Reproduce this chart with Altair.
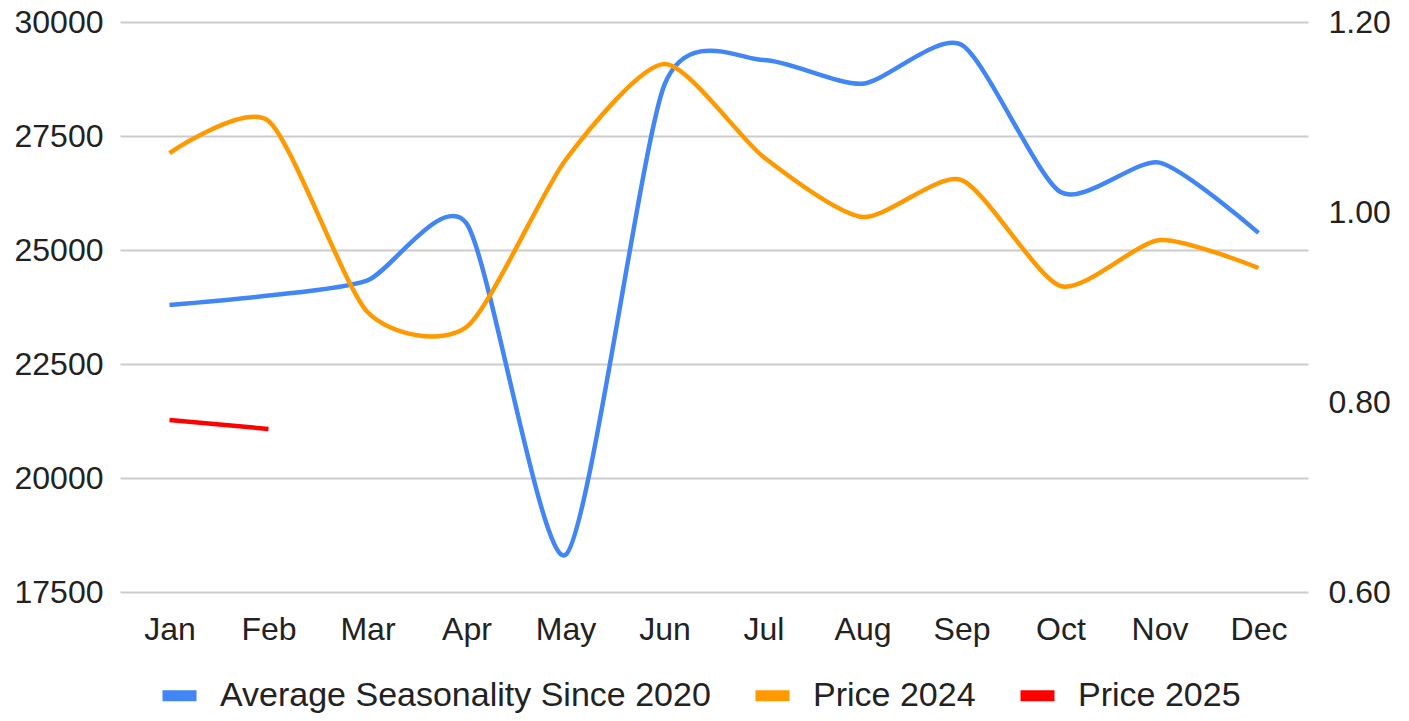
import altair as alt
import pandas as pd

months = ["Jan", "Feb", "Mar", "Apr", "May", "Jun", "Jul", "Aug", "Sep", "Oct", "Nov", "Dec"]
seasonality = [0.902, 0.912, 0.928, 0.988, 0.639, 1.134, 1.160, 1.135, 1.176, 1.021, 1.052, 0.978]
price_2024 = [27127, 27830, 23640, 23311, 26974, 29079, 27040, 25724, 26535, 24210, 25219, 24605]
price_2025_months = ["Jan", "Feb"]
price_2025 = [21272, 21075]

series_names = ["Average Seasonality Since 2020", "Price 2024", "Price 2025"]
series_colors = ["#4285F4", "#FF9900", "#FF0000"]

left_ticks = [17500, 20000, 22500, 25000, 27500, 30000]
right_ticks = [0.6, 0.8, 1.0, 1.2]

rows = []
for m, v in zip(months, seasonality):
    rows.append({"month": m, "series": series_names[0], "value": v})
for m, v in zip(months, price_2024):
    rows.append({"month": m, "series": series_names[1], "value": v})
for m, v in zip(price_2025_months, price_2025):
    rows.append({"month": m, "series": series_names[2], "value": v})
df = pd.DataFrame(rows)

FONT = "Liberation Sans"

x_enc = alt.X(
    "month:N",
    sort=months,
    scale=alt.Scale(type="point", padding=0.5),
    axis=alt.Axis(
        title=None, labelAngle=0, ticks=False, tickSize=0, domain=False,
        labelFontSize=32, labelFont=FONT, labelColor="#222222", labelPadding=22,
        grid=False,
    ),
)

color_enc = alt.Color(
    "series:N",
    scale=alt.Scale(domain=series_names, range=series_colors),
    legend=alt.Legend(
        title=None, orient="none", legendX=37, legendY=651, direction="horizontal",
        symbolType="stroke", symbolSize=1156, symbolStrokeWidth=11,
        labelFontSize=34, labelFont=FONT, labelColor="#222222", labelOffset=18,
        columnPadding=22, labelLimit=0,
    ),
)

base = alt.Chart(df)

blue = base.transform_filter(
    alt.datum.series == series_names[0]
).mark_line(interpolate="cardinal", tension=0.3, strokeWidth=4.5).encode(
    x=x_enc,
    y=alt.Y(
        "value:Q",
        scale=alt.Scale(domain=[0.6, 1.2], zero=False, nice=False),
        axis=alt.Axis(
            orient="right", values=right_ticks, format=".2f", title=None, grid=False,
            ticks=False, tickSize=0, domain=False, labelFontSize=32, labelFont=FONT,
            labelColor="#222222", labelPadding=20,
        ),
    ),
    color=color_enc,
)

prices = base.transform_filter(
    alt.datum.series != series_names[0]
).mark_line(interpolate="cardinal", tension=0.3, strokeWidth=4.5).encode(
    x=x_enc,
    y=alt.Y(
        "value:Q",
        scale=alt.Scale(domain=[17500, 30000], zero=False, nice=False),
        axis=alt.Axis(
            orient="left", values=left_ticks, format="d", title=None, grid=True,
            gridColor="#cccccc", gridWidth=2, ticks=False, tickSize=0, domain=False,
            labelFontSize=32, labelFont=FONT, labelColor="#222222", labelPadding=17,
        ),
    ),
    color=color_enc,
)

chart = alt.layer(blue, prices).resolve_scale(y="independent").properties(
    width=1188,
    height=570,
    autosize=alt.AutoSizeParams(type="none"),
    padding={"left": 112, "top": 14, "right": 93, "bottom": 121},
).configure_view(strokeWidth=0)

chart.save("out.html", embed_options={"renderer": "svg", "actions": False})
